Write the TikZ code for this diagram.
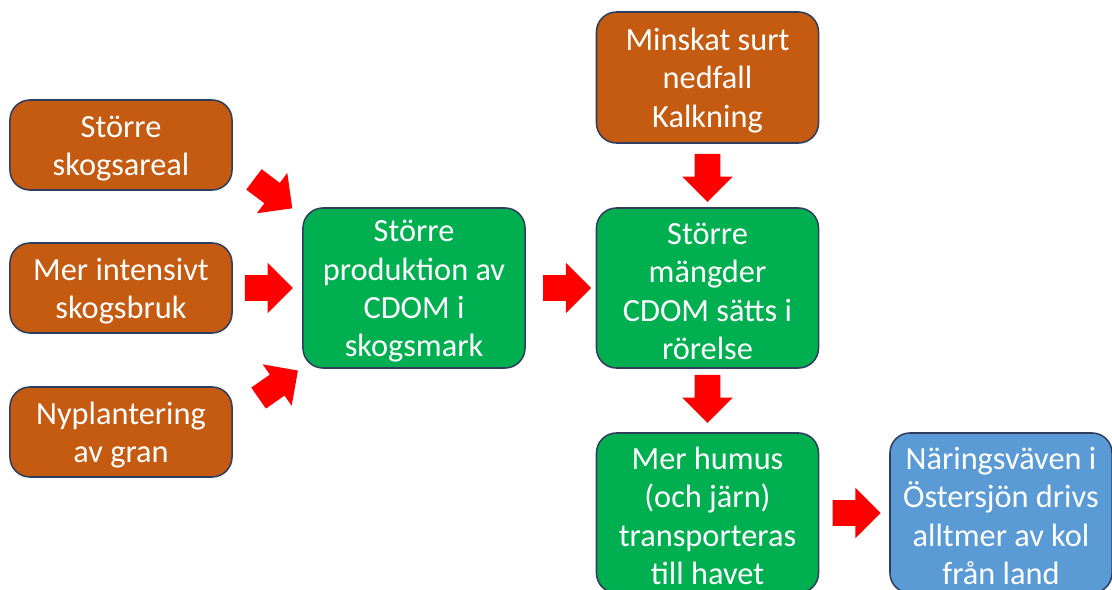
\documentclass[tikz,border=0pt]{standalone}
\usepackage{fontspec}
\setmainfont{Carlito}
\usetikzlibrary{shapes.arrows,calc}
\definecolor{boxorange}{RGB}{197,90,17}
\definecolor{boxgreen}{RGB}{0,176,80}
\definecolor{boxblue}{RGB}{91,155,213}
\definecolor{boxline}{RGB}{47,62,95}
\definecolor{arrowred}{RGB}{255,0,0}
\newcommand{\topgap}{\rule{0pt}{20pt}}
\tikzset{
  cbox/.style={rounded corners=0.5cm, draw=boxline, line width=1.1pt, text=white,
               minimum width=5.55cm, minimum height=4cm, align=center, inner ysep=0pt,
               font=\fontsize{23}{27.3}\selectfont},
  obox/.style={cbox, fill=boxorange, minimum height=2.25cm},
  gbox/.style={cbox, fill=boxgreen},
  bbox/.style={cbox, fill=boxblue},
  redarrow/.style={single arrow, fill=arrowred, draw=none, inner xsep=0pt, inner ysep=0.3125cm,
               minimum height=1.2cm, minimum width=1.25cm, single arrow head extend=0.3125cm},
}

\begin{document}
\begin{tikzpicture}[x=0.025cm, y=-0.025cm]
        \useasboundingbox (0,0) rectangle (1112,590);
        \node[obox] (sa) at (121,145) {\topgap Större\\skogsareal};
        \node[obox] (ms) at (121,288) {\topgap Mer intensivt\\skogsbruk};
        \node[obox] (ny) at (121,432) {\topgap Nyplantering\\av gran};
        \node[gbox] (pr) at (414,288) {\topgap Större\\produktion av\\CDOM i\\skogsmark};
        \node[obox, minimum height=3.275cm] (mk) at (707.5,77.5) {\topgap Minskat surt\\nedfall\\Kalkning};
        \node[gbox] (rr) at (707.5,288) {\topgap Större\\mängder\\CDOM sätts i\\rörelse};
        \node[gbox] (hu) at (707.5,513) {\topgap Mer humus\\(och järn)\\transporteras\\till havet};
        \node[bbox] (nv) at (1001,513) {\topgap Näringsväven i\\Östersjön drivs\\alltmer av kol\\från land};
        % block arrows
        \node[redarrow, rotate=-37] (a1) at (268,190) {};
        \node[redarrow] (a2) at ($(ms.east)!0.5!(pr.west)+(-5,0)$) {};
        \node[redarrow, rotate=35] (a3) at (273,388) {};
        \node[redarrow] (a4) at ($(pr.east)!0.5!(rr.west)$) {};
        \node[redarrow, rotate=-90] (a5) at ($(mk.south)!0.5!(rr.north)+(0,-4)$) {};
        \node[redarrow, rotate=-90] (a6) at ($(rr.south)!0.5!(hu.north)+(0,-8)$) {};
        \node[redarrow] (a7) at ($(hu.east)!0.5!(nv.west)+(-4,0)$) {};
      \end{tikzpicture}
\end{document}
